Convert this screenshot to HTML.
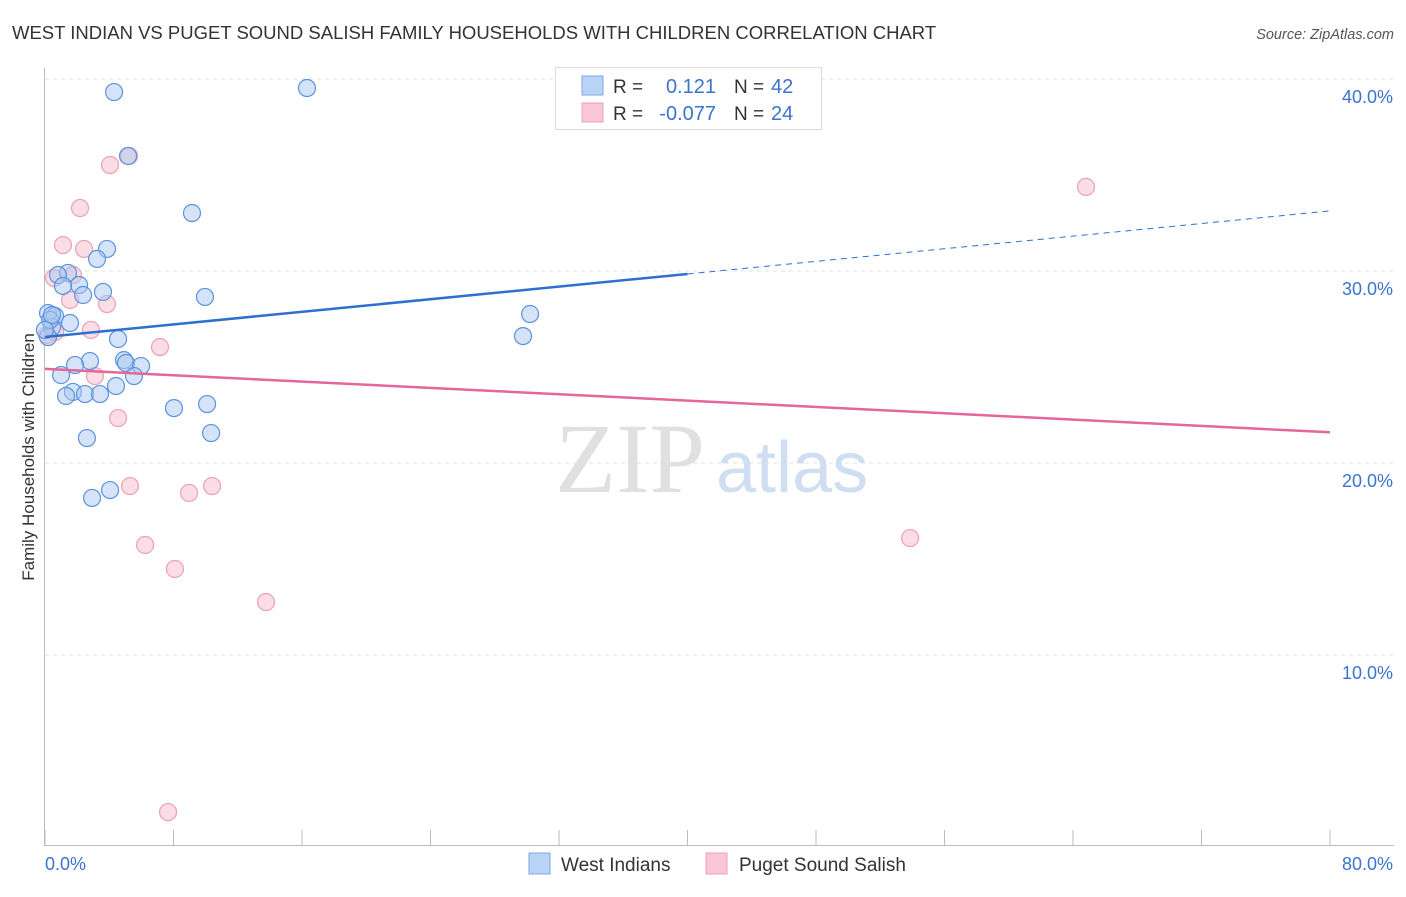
<!DOCTYPE html>
<html><head><meta charset="utf-8"><style>
body{margin:0;background:#fff;font-family:"Liberation Sans",sans-serif;}
</style></head><body>
<svg id="c" width="1406" height="892" xmlns="http://www.w3.org/2000/svg">
<text x="12" y="39" font-size="18.5" fill="#333">WEST INDIAN VS PUGET SOUND SALISH FAMILY HOUSEHOLDS WITH CHILDREN CORRELATION CHART</text>
<text x="1394" y="39" font-size="14.5" fill="#555" font-style="italic" text-anchor="end">Source: ZipAtlas.com</text>
<text transform="translate(34,457) rotate(-90)" font-size="17" fill="#333" text-anchor="middle">Family Households with Children</text>
<g id="grid"></g>
<text x="555" y="492" font-size="100" fill="#e0e0e0" font-family="Liberation Serif,serif">ZIP</text>
<text x="716" y="492" font-size="72" fill="#d0def2">atlas</text>
<g id="pts"></g>
<g id="lines"></g>
<g>
<rect x="555.5" y="67.5" width="266" height="62" fill="#fff" stroke="#ddd"/>
<rect x="582" y="76" width="21" height="19" fill="#b8d3f5" stroke="#7aa9e6"/>
<rect x="582" y="103" width="21" height="19" fill="#f8c6d4" stroke="#eba0b7"/>
<text x="613" y="93" font-size="19" fill="#333">R =</text>
<text x="716" y="93" font-size="20" fill="#3a74d0" text-anchor="end">0.121</text>
<text x="734" y="93" font-size="19" fill="#333">N =</text>
<text x="771" y="93" font-size="20" fill="#3a74d0">42</text>
<text x="613" y="120" font-size="19" fill="#333">R =</text>
<text x="716" y="120" font-size="20" fill="#3a74d0" text-anchor="end">-0.077</text>
<text x="734" y="120" font-size="19" fill="#333">N =</text>
<text x="771" y="120" font-size="20" fill="#3a74d0">24</text>
</g>
<g>
<rect x="529" y="853" width="21" height="21" fill="#b8d3f5" stroke="#7aa9e6"/>
<text x="561" y="871" font-size="19" fill="#333">West Indians</text>
<rect x="706" y="853" width="21" height="21" fill="#f8c6d4" stroke="#eba0b7"/>
<text x="739" y="871" font-size="19" fill="#333">Puget Sound Salish</text>
</g>
</svg>
<script>
const blueX=[4.30,16.31,5.17,9.15,3.86,3.24,1.43,0.81,2.12,1.12,2.37,3.61,9.96,0.19,0.62,0.44,1.56,0.19,4.55,30.20,29.76,2.80,1.87,4.92,5.04,5.98,1.00,5.54,4.42,1.74,1.31,2.49,3.42,8.03,10.09,10.34,2.61,4.05,2.93,0.31,0.0,0.44];
const blueY=[39.32,39.53,35.99,33.02,31.15,30.63,29.90,29.79,29.27,29.22,28.75,28.91,28.65,27.81,27.66,27.08,27.29,26.56,26.46,27.76,26.61,25.31,25.10,25.36,25.21,25.05,24.58,24.53,24.01,23.70,23.49,23.59,23.59,22.86,23.07,21.56,21.30,18.59,18.18,27.45,26.93,27.71];
const pinkX=[4.05,5.23,2.18,1.12,2.43,0.56,1.74,1.56,3.86,2.86,0.62,7.16,3.11,4.55,5.29,8.97,10.40,6.23,8.09,13.76,7.66,64.81,53.86,0.12];
const pinkY=[35.52,35.99,33.28,31.35,31.15,29.64,29.79,28.49,28.28,26.93,26.82,26.04,24.53,22.34,18.80,18.44,18.80,15.73,14.48,12.76,1.82,34.38,16.09,26.67];
const blueTrend=[26.56,33.13];
const pinkTrend=[24.9,21.6];
const yTicks=[10,20,30,40];
const yTickLabels=["10.0%","20.0%","30.0%","40.0%"];
const xTicks=[0,8,16,24,32,40,48,56,64,72,80];
const xs=v=>45+v*1285/80, ys=v=>847-v*19.2;
const NS="http://www.w3.org/2000/svg";
function mk(t,a,p){const e=document.createElementNS(NS,t);for(const k in a)e.setAttribute(k,a[k]);p.appendChild(e);return e;}
const g=document.getElementById('grid');
let ax=mk('line',{x1:44.5,y1:68,x2:44.5,y2:845,stroke:'#bbb'},g);


let bx=mk('line',{x1:44,y1:845.5,x2:1394,y2:845.5,stroke:'#bbb'},g);


yTicks.forEach((t,i)=>{
 const l=mk('line',{x1:45,x2:1394,y1:ys(t),y2:ys(t),stroke:'#e2e2e2','stroke-dasharray':'4,4'},g);
 
 
 const tx=mk('text',{x:1393,y:ys(t)+24,'font-size':18,fill:'#3a74d0','text-anchor':'end'},g);
 tx.textContent=yTickLabels[i];
 
 
});
xTicks.forEach(t=>{
 const l=mk('line',{x1:xs(t),x2:xs(t),y1:830,y2:845,stroke:'#bbb'},g);
 
 
});
let t0=mk('text',{x:45,y:870,'font-size':18,fill:'#3a74d0'},g);t0.textContent='0.0%';


let t1=mk('text',{x:1393,y:870,'font-size':18,fill:'#3a74d0','text-anchor':'end'},g);t1.textContent='80.0%';


const P=document.getElementById('pts');
pinkX.forEach((x,i)=>{const c=mk('circle',{cx:xs(x),cy:ys(pinkY[i]),r:8.5,fill:'rgba(248,180,200,0.45)',stroke:'#eba0b7','stroke-width':1.2},P);
 
 });
blueX.forEach((x,i)=>{const c=mk('circle',{cx:xs(x),cy:ys(blueY[i]),r:8.5,fill:'rgba(170,200,240,0.5)',stroke:'#5b93de','stroke-width':1.2},P);
 
 });
const L=document.getElementById('lines');
const bAt=v=>blueTrend[0]+(blueTrend[1]-blueTrend[0])*v/80;
let l1=mk('line',{x1:xs(0),y1:ys(bAt(0)),x2:xs(40),y2:ys(bAt(40)),stroke:'#2f6fd0','stroke-width':2.5},L);


let l2=mk('line',{x1:xs(40),y1:ys(bAt(40)),x2:xs(80),y2:ys(bAt(80)),stroke:'#2f6fd0','stroke-width':1,'stroke-dasharray':'6,5'},L);


let l3=mk('line',{x1:xs(0),y1:ys(pinkTrend[0]),x2:xs(80),y2:ys(pinkTrend[1]),stroke:'#e4669a','stroke-width':2.5},L);


</script>
</body></html>
